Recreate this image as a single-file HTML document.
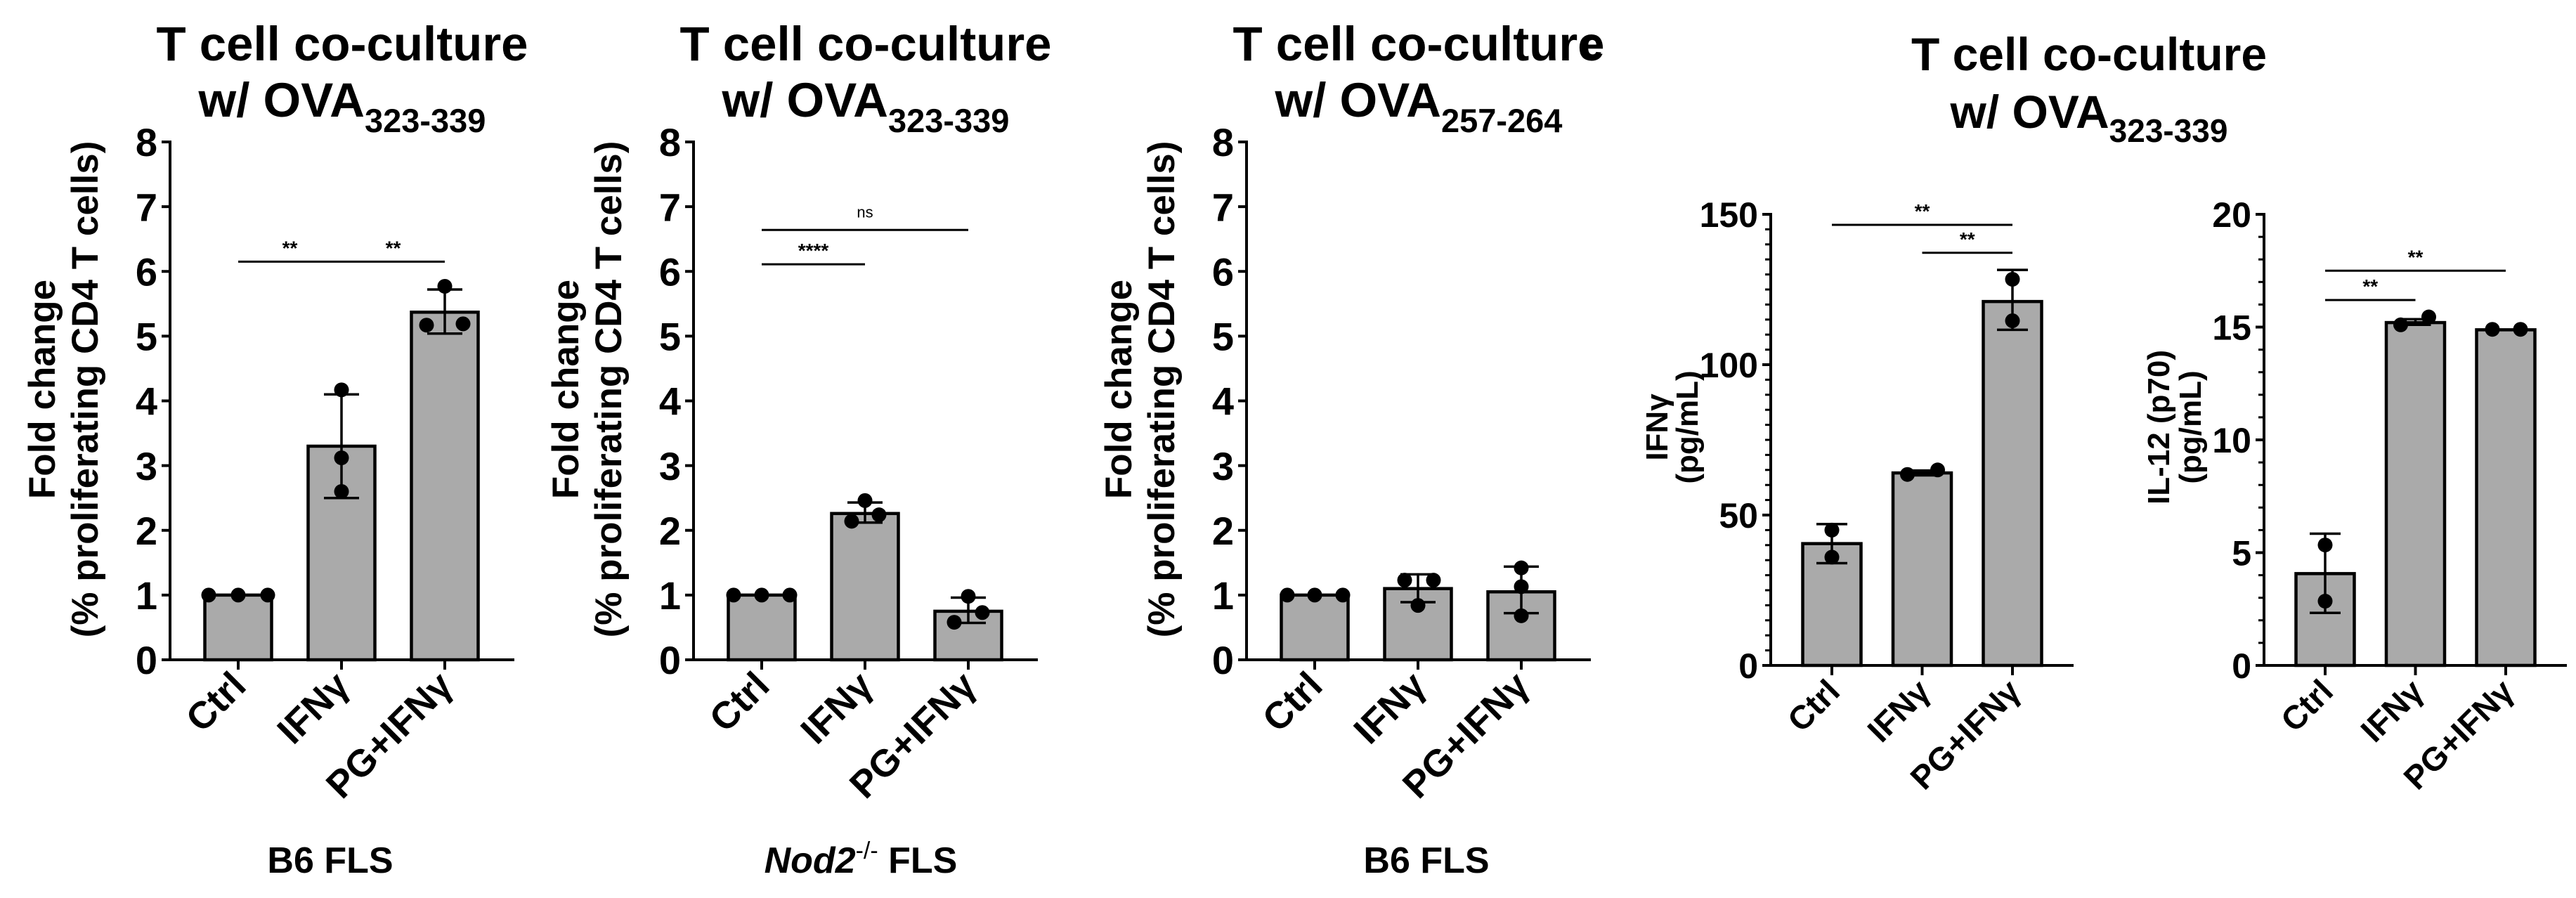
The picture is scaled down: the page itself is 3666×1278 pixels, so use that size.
<!DOCTYPE html>
<html><head><meta charset="utf-8">
<style>
html,body{margin:0;padding:0;background:#fff;}
svg{display:block;font-family:"Liberation Sans",Arial,sans-serif;font-weight:bold;}
</style></head>
<body>
<svg id="fig" xmlns="http://www.w3.org/2000/svg" width="3666" height="1278" viewBox="0 0 3666 1278">
<rect width="3666" height="1278" fill="#fff"/>
<text x="2250" y="82" font-size="56">e</text>
<g id="layer"></g>
</svg>
<script>
// ---- data ----
const categories = ['Ctrl', 'IFNγ', 'PG+IFNγ'];

const p1Means = [1.0, 3.3, 5.37];
const p1ErrLow = [1.0, 2.5, 5.04];
const p1ErrHigh = [1.0, 4.1, 5.72];
const p1Points = [[1, 1, 1], [4.17, 3.12, 2.6], [5.77, 5.17, 5.19]];
const p1Jitter = [[-42, 0, 42], [0, 0, 0], [0, -26, 26]];
const p1Sig = [[0, 1, 6.15, '**'], [1, 2, 6.15, '**']];

const p2Means = [1.0, 2.26, 0.75];
const p2ErrLow = [1.0, 2.12, 0.57];
const p2ErrHigh = [1.0, 2.43, 0.96];
const p2Points = [[1, 1, 1], [2.46, 2.14, 2.24], [0.98, 0.58, 0.73]];
const p2Jitter = [[-40, 0, 40], [0, -19, 20], [0, -20, 20]];
const p2Sig = [[0, 1, 6.11, '****'], [0, 2, 6.64, 'ns']];

const p3Means = [1.0, 1.1, 1.05];
const p3ErrLow = [1.0, 0.89, 0.72];
const p3ErrHigh = [1.0, 1.32, 1.44];
const p3Points = [[1, 1, 1], [1.23, 1.23, 0.84], [1.42, 1.13, 0.68]];
const p3Jitter = [[-39, 0, 40], [-19, 22, 0], [0, 0, 0]];
const p3Sig = [];

const p4Means = [40.5, 64.0, 121.0];
const p4ErrLow = [34, 63.2, 111.6];
const p4ErrHigh = [47, 64.8, 131.5];
const p4Points = [[45, 36], [63.5, 65], [128.4, 114.6]];
const p4Jitter = [[0, 0], [-21, 22], [0, 0]];
const p4Sig = [[0, 2, 146.5, '**'], [1, 2, 137.2, '**']];

const p5Means = [4.07, 15.2, 14.88];
const p5ErrLow = [2.33, 15.1, 14.88];
const p5ErrHigh = [5.84, 15.35, 14.88];
const p5Points = [[5.34, 2.85], [15.1, 15.45], [14.9, 14.9]];
const p5Jitter = [[0, 0], [-21, 19], [-19, 21]];
const p5Sig = [[0, 2, 17.5, '**'], [0, 1, 16.2, '**']];

const fcTicks = [0, 1, 2, 3, 4, 5, 6, 7, 8];
const ifnTicks = [0, 50, 100, 150];
const il12Ticks = [0, 5, 10, 15, 20];

// ---- rendering ----
const NS = 'http://www.w3.org/2000/svg';
const layer = document.getElementById('layer');
function mk(tag, attrs, parent) {
  const e = document.createElementNS(NS, tag);
  for (const k in attrs) e.setAttribute(k, attrs[k]);
  (parent || layer).appendChild(e);
  return e;
}

function drawPanel(id, L, means, lo, hi, pts, jit, sig, ticks) {
  const g = mk('g', {});
  
  
  const yScale = v => L.y0 - (v - L.min) / (L.max - L.min) * (L.y0 - L.yTop);
  const xScale = i => L.ax + L.first + i * L.step;

  // bars
  means.forEach((m, i) => {
    const r = mk('rect', {x: xScale(i) - L.bw / 2, y: yScale(m), width: L.bw, height: L.y0 - yScale(m), fill: '#aaaaaa', stroke: '#000', 'stroke-width': 4.5}, g);
    
    
  });
  // error bars
  means.forEach((m, i) => {
    if (hi[i] === lo[i]) return;
    const cx = xScale(i);
    const eg = mk('g', {stroke: '#000', 'stroke-width': 3.5}, g);
    
    
    mk('line', {x1: cx, x2: cx, y1: yScale(hi[i]), y2: yScale(lo[i])}, eg);
    mk('line', {x1: cx - L.cap, x2: cx + L.cap, y1: yScale(hi[i]), y2: yScale(hi[i])}, eg);
    mk('line', {x1: cx - L.cap, x2: cx + L.cap, y1: yScale(lo[i]), y2: yScale(lo[i])}, eg);
  });
  // points
  pts.forEach((arr, i) => arr.forEach((v, j) => {
    const c = mk('circle', {cx: xScale(i) + jit[i][j], cy: yScale(v), r: 10.5, fill: '#000'}, g);
    
    
  }));
  // axes
  const axg = mk('g', {stroke: '#000', 'stroke-width': 4}, g);
  
  
  mk('line', {x1: L.ax, x2: L.ax, y1: L.yTop - 2, y2: L.y0 + 2}, axg);
  mk('line', {x1: L.ax - 10, x2: L.axEnd, y1: L.y0, y2: L.y0}, axg);
  if (L.minor) {
    for (let v = L.min + L.minor; v < L.max; v += L.minor) {
      mk('line', {x1: L.ax - 8, x2: L.ax, y1: yScale(v), y2: yScale(v), 'stroke-width': 3}, axg);
    }
  }
  ticks.forEach(t => {
    mk('line', {x1: L.ax - 12, x2: L.ax, y1: yScale(t), y2: yScale(t)}, axg);
    const tl = mk('text', {x: L.ax - 18, y: yScale(t) + L.tickFs * 0.36, 'text-anchor': 'end', 'font-size': L.tickFs}, g);
    tl.textContent = t;
    
    
  });
  categories.forEach((c, i) => {
    mk('line', {x1: xScale(i), x2: xScale(i), y1: L.y0, y2: L.y0 + 14}, axg);
    const tx = xScale(i) + 14, ty = L.y0 + 40;
    const t = mk('text', {x: tx, y: ty, 'text-anchor': 'end', 'font-size': L.catFs, transform: `rotate(-45 ${tx} ${ty})`}, g);
    t.textContent = c;
    
    
  });
  // significance
  sig.forEach(s => {
    const y = yScale(s[2]);
    const x1 = xScale(s[0]), x2 = xScale(s[1]);
    const ln = mk('line', {x1: x1 + (s[4] || 0), x2: x2, y1: y, y2: y, stroke: '#000', 'stroke-width': 3}, g);
    
    
    const isNs = s[3] === 'ns';
    const st = mk('text', {x: (x1 + x2) / 2, y: y - (isNs ? 18 : 10), 'text-anchor': 'middle', 'font-size': isNs ? 22 : 28, 'font-weight': isNs ? 'normal' : 'bold'}, g);
    st.textContent = s[3];
    
    
  });
  return {g, xScale, yScale};
}

const fcLayout = ax => ({ax, axEnd: ax + 490, first: 97, step: 147, bw: 95, cap: 25, y0: 939, yTop: 202, min: 0, max: 8, minor: 0, tickFs: 56, catFs: 54});
const cyLayout = (ax, max, minor) => ({ax, axEnd: ax + 431, first: 87, step: 128.5, bw: 83, cap: 22, y0: 947, yTop: 305, min: 0, max, minor, tickFs: 50, catFs: 47});

drawPanel('panel-b6-ova323', fcLayout(242), p1Means, p1ErrLow, p1ErrHigh, p1Points, p1Jitter, p1Sig, fcTicks);
drawPanel('panel-nod2-ova323', fcLayout(987), p2Means, p2ErrLow, p2ErrHigh, p2Points, p2Jitter, p2Sig, fcTicks);
drawPanel('panel-b6-ova257', fcLayout(1774), p3Means, p3ErrLow, p3ErrHigh, p3Points, p3Jitter, p3Sig, fcTicks);
drawPanel('panel-ifng', cyLayout(2520, 150, 5), p4Means, p4ErrLow, p4ErrHigh, p4Points, p4Jitter, p4Sig, ifnTicks);
drawPanel('panel-il12', cyLayout(3222, 20, 1), p5Means, p5ErrLow, p5ErrHigh, p5Points, p5Jitter, p5Sig, il12Ticks);
</script>

<!-- static text -->
<svg style="position:absolute;left:0;top:0" width="3666" height="1278" xmlns="http://www.w3.org/2000/svg" font-family="Liberation Sans, Arial, sans-serif" font-weight="bold">
  <!-- Panel 1 -->
  <text x="487" y="86" font-size="69" text-anchor="middle">T cell co-culture</text>
  <text x="487" y="166" font-size="69" text-anchor="middle">w/ OVA<tspan font-size="47" dy="22">323-339</tspan></text>
  <text transform="translate(78 554) rotate(-90)" font-size="53" text-anchor="middle">Fold change</text>
  <text transform="translate(139 554) rotate(-90)" font-size="53" text-anchor="middle">(% proliferating CD4 T cells)</text>
  <text x="470" y="1242" font-size="52" text-anchor="middle">B6 FLS</text>
  <!-- Panel 2 -->
  <text x="1232" y="86" font-size="69" text-anchor="middle">T cell co-culture</text>
  <text x="1232" y="166" font-size="69" text-anchor="middle">w/ OVA<tspan font-size="47" dy="22">323-339</tspan></text>
  <text transform="translate(823 554) rotate(-90)" font-size="53" text-anchor="middle">Fold change</text>
  <text transform="translate(884 554) rotate(-90)" font-size="53" text-anchor="middle">(% proliferating CD4 T cells)</text>
  <text x="1225" y="1242" font-size="52" text-anchor="middle"><tspan font-style="italic">Nod2</tspan><tspan font-size="34" dy="-20" font-weight="normal">-/-</tspan><tspan dy="20"> FLS</tspan></text>
  <!-- Panel 3 -->
  <text x="2019" y="86" font-size="69" text-anchor="middle">T cell co-culture</text>
  <text x="2019" y="166" font-size="69" text-anchor="middle">w/ OVA<tspan font-size="47" dy="22">257-264</tspan></text>
  <text transform="translate(1610 554) rotate(-90)" font-size="53" text-anchor="middle">Fold change</text>
  <text transform="translate(1671 554) rotate(-90)" font-size="53" text-anchor="middle">(% proliferating CD4 T cells)</text>
  <text x="2030" y="1242" font-size="52" text-anchor="middle">B6 FLS</text>
  <!-- Panels 4-5 -->
  <text x="2973" y="100" font-size="66" text-anchor="middle">T cell co-culture</text>
  <text x="2973" y="182" font-size="66" text-anchor="middle">w/ OVA<tspan font-size="46" dy="20">323-339</tspan></text>
  <text transform="translate(2373 608) rotate(-90)" font-size="44" text-anchor="middle">IFNγ</text>
  <text transform="translate(2416 608) rotate(-90)" font-size="44" text-anchor="middle">(pg/mL)</text>
  <text transform="translate(3087 608) rotate(-90)" font-size="44" text-anchor="middle">IL-12 (p70)</text>
  <text transform="translate(3132 608) rotate(-90)" font-size="44" text-anchor="middle">(pg/mL)</text>
</svg>
</body></html>
